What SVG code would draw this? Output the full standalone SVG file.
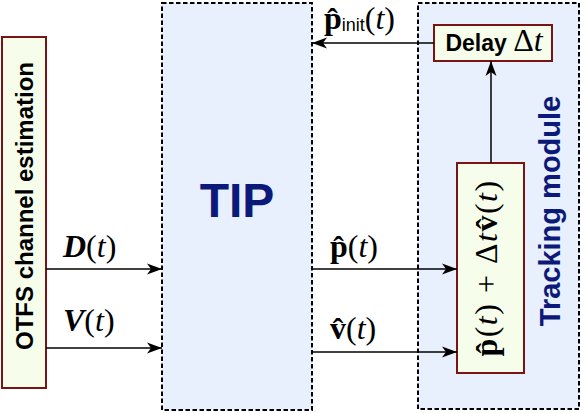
<svg xmlns="http://www.w3.org/2000/svg" width="581" height="413" viewBox="0 0 581 413">
<style>
.mod{fill:#e8effd;stroke:#000;stroke-width:2;stroke-dasharray:4.5,2.5}
.blk{fill:#f6fdea;stroke:#7a1414;stroke-width:2}
.ln{stroke:#000;stroke-width:1.5;fill:none}
.m{font-family:"Liberation Serif","DejaVu Serif",serif;font-size:32px;fill:#000}
.b{font-weight:bold}
.i{font-style:italic}
.sans{font-family:"Liberation Sans",Arial,sans-serif}
.title{font-family:"Liberation Sans",Arial,sans-serif;font-weight:bold;fill:#0b1a78}
</style>
<defs>
<marker id="ah" markerUnits="userSpaceOnUse" markerWidth="16" markerHeight="12" refX="15" refY="6" orient="auto">
<path d="M0,0.5 L15,6 L0,11.5 L4,6 Z" fill="#000"/>
</marker>
</defs>

<g id="otfs">
<rect class="blk" x="2" y="37" width="44" height="351"/>
<text class="sans b" font-size="24" transform="translate(33,206) rotate(-90)" text-anchor="middle">OTFS channel estimation</text>
</g>

<g id="tip">
<rect class="mod" x="162" y="3" width="150" height="407"/>
<text class="title" font-size="48" x="237" y="217" text-anchor="middle">TIP</text>
</g>

<g id="tracking">
<rect class="mod" x="418" y="3" width="161" height="406"/>
<text class="title" font-size="29" transform="translate(560,211) rotate(-90)" text-anchor="middle">Tracking module</text>
</g>

<g id="delay">
<rect class="blk" x="434" y="25" width="118" height="36"/>
<text x="494" y="51" text-anchor="middle" font-size="23"><tspan class="sans b">Delay </tspan><tspan class="m" font-size="27">Δ<tspan class="i">t</tspan></tspan></text>
</g>

<g id="update">
<rect class="blk" x="457" y="163" width="67" height="210"/>
<text class="m" font-size="33" letter-spacing="1.5" transform="translate(497,268) rotate(-90)" text-anchor="middle"><tspan class="b">p̂</tspan>(<tspan class="i">t</tspan>) + Δ<tspan class="i">t</tspan><tspan class="b">v̂</tspan>(<tspan class="i">t</tspan>)</text>
</g>

<g id="connectors">
<line class="ln" x1="46" y1="269" x2="162" y2="269" marker-end="url(#ah)"/>
<line class="ln" x1="46" y1="348" x2="162" y2="348" marker-end="url(#ah)"/>
<line class="ln" x1="312" y1="269" x2="457" y2="269" marker-end="url(#ah)"/>
<line class="ln" x1="312" y1="352" x2="457" y2="352" marker-end="url(#ah)"/>
<line class="ln" x1="434" y1="43" x2="312" y2="43" marker-end="url(#ah)"/>
<line class="ln" x1="491" y1="163" x2="491" y2="61" marker-end="url(#ah)"/>
<text class="m" x="63" y="257"><tspan class="b i">D</tspan>(<tspan class="i">t</tspan>)</text>
<text class="m" x="63" y="331"><tspan class="b i">V</tspan>(<tspan class="i">t</tspan>)</text>
<text class="m" x="330" y="257"><tspan class="b">p̂</tspan>(<tspan class="i">t</tspan>)</text>
<text class="m" x="330" y="339"><tspan class="b">v̂</tspan>(<tspan class="i">t</tspan>)</text>
<text class="m" font-size="30" x="324" y="29"><tspan class="b">p̂</tspan><tspan class="sans" font-size="18" dy="2">init</tspan><tspan dy="-2">(</tspan><tspan class="i">t</tspan>)</text>
</g>
</svg>
